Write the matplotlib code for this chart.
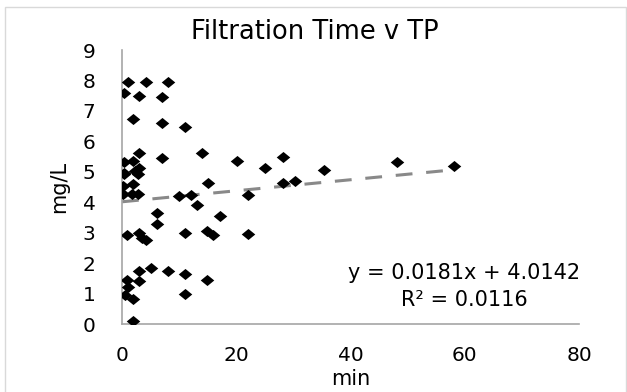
import matplotlib
matplotlib.use("Agg")
import matplotlib.pyplot as plt
from matplotlib.patches import Rectangle

# -----------------------------
# Data
# -----------------------------
filt_time = [1.05, 4.2, 8.1, 0.35, 3.0, 7.0, 1.9, 7.0, 11.1,
             3.0, 7.0, 14.0, 0.35, 1.9, 3.0, 0.35, 2.3,
             0.35, 2.8, 15.1, 0.2, 1.9, 2.8, 0.2, 1.7, 10.0, 12.1,
             13.2, 6.1, 6.1, 0.9, 3.0, 3.5, 4.2, 11.1, 14.9, 16.0,
             3.0, 5.1, 8.1, 11.1, 14.9, 3.0, 0.9, 1.0, 0.5, 1.9,
             11.1, 1.9, 20.2, 25.1, 28.2, 28.2, 30.2, 35.3, 48.1,
             22.1, 17.2, 22.1, 58.2]
tp = [7.94, 7.94, 7.94, 7.58, 7.48, 7.45, 6.73, 6.6, 6.47,
      5.62, 5.46, 5.62, 5.33, 5.36, 5.13, 4.97, 5.03,
      4.93, 4.93, 4.64, 4.54, 4.6, 4.28, 4.28, 4.28, 4.2, 4.25,
      3.92, 3.63, 3.27, 2.91, 3.0, 2.81, 2.75, 3.0, 3.07, 2.91,
      1.73, 1.83, 1.73, 1.63, 1.44, 1.4, 1.44, 1.2, 0.95, 0.82,
      0.98, 0.1, 5.36, 5.13, 5.49, 4.64, 4.7, 5.07, 5.33,
      4.25, 3.56, 2.94, 5.2]

slope = 0.0181
intercept = 4.0142
trend_x = [0, 58.2]
trend_y = [slope * v + intercept for v in trend_x]

# Excel-style diamond, a little wider than tall
diamond = [(-1, 0), (0, 0.82), (1, 0), (0, -0.82), (-1, 0)]

fig = plt.figure(figsize=(6.27, 3.92), dpi=100)
ax = fig.add_axes([122 / 627, 1 - 324 / 392, 457 / 627, 274 / 392])

# chart area border
fig.patches.append(Rectangle((5 / 627, -0.1), 621 / 627, 1.1 - 7 / 392,
                             transform=fig.transFigure, fill=False,
                             edgecolor='#d9d9d9', linewidth=1))

ax.scatter(filt_time, tp, marker=diamond, s=95, color='black',
           linewidths=0, zorder=3)
ax.plot(trend_x, trend_y, linestyle=(0, (5.5, 4.5)), color='#898989',
        linewidth=2.2, zorder=2)

ax.set_xlim(0, 80)
ax.set_ylim(0, 9)
ax.set_xticks([0, 20, 40, 60, 80])
ax.set_yticks(range(10))
ax.tick_params(length=0, labelsize=14.5)
ax.tick_params(axis='y', pad=19)
ax.tick_params(axis='x', pad=16)
for s in ['top', 'right']:
    ax.spines[s].set_visible(False)
for s in ['left', 'bottom']:
    ax.spines[s].set_color('#a6a6a6')
    ax.spines[s].set_linewidth(1.2)

fig.text(315 / 627, 1 - 39 / 392, 'Filtration Time v TP', fontsize=18.5,
         ha='center', va='baseline')
ax.set_xlabel('min', fontsize=15, labelpad=3)
ax.set_ylabel('mg/L', fontsize=15, labelpad=10)

ax.text(59.9, 1.67, 'y = 0.0181x + 4.0142', fontsize=15, ha='center', va='center')
ax.text(59.9, 0.79, 'R² = 0.0116', fontsize=15, ha='center', va='center')

fig.savefig('out.png', dpi=100)
